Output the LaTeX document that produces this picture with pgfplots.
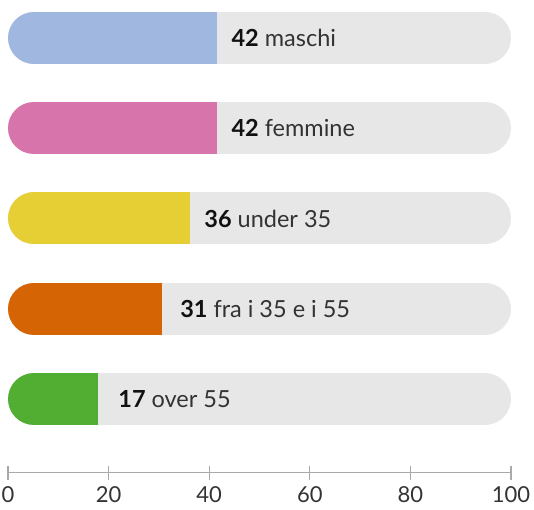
\documentclass[border=0pt]{standalone}
\usepackage{pgfplots}
\pgfplotsset{compat=1.18}
\usepackage{fontspec}
\setmainfont{Lato}
\definecolor{cblue}{HTML}{A0B8E0}
\definecolor{cpink}{HTML}{D874AC}
\definecolor{cyellow}{HTML}{E6CF34}
\definecolor{corange}{HTML}{D46404}
\definecolor{cgreen}{HTML}{52AE32}
\definecolor{cbg}{HTML}{E7E7E7}
\definecolor{axgray}{HTML}{AAAAAA}
\definecolor{tickgray}{HTML}{333333}
\definecolor{labtext}{HTML}{333333}
\definecolor{numtext}{HTML}{111111}
\newcommand{\num}[1]{\textcolor{numtext}{\textbf{#1}}}
\begin{document}
\begin{tikzpicture}
\begin{axis}[name=main, scale only axis, width=503pt, height=472.7pt,
  xmin=0, xmax=100, ymin=0.184, ymax=5.42,
  axis x line*=bottom, axis y line=none,
  xtick={0,20,40,60,80,100}, ytick=\empty,
  tick align=center, major tick length=14pt,
  x axis line style={color=axgray, line width=1.2pt},
  every tick/.style={color=axgray, line width=1.2pt},
  xticklabel style={font=\fontsize{22}{26}\selectfont, text=tickgray, yshift=-3pt},
  /pgf/number format/assume math mode=true,
  clip=false,
  lab/.style={nodes near coords, point meta=explicit symbolic,
    every node near coord/.append style={anchor=west, xshift=#1, text=labtext,
      outer sep=0pt, line width=0.4pt,
      font=\fontsize{23.5}{27}\selectfont}},
  rnd/.style={line width=52pt, line cap=round, mark=none, forget plot},
  sq/.style={line width=52pt, line cap=butt, mark=none},
]
% background bars (0 to 100, round ends; cap radius = 5.169 units)
\addplot[rnd, draw=cbg] coordinates {(5.169,5) (94.831,5)};
\addplot[rnd, draw=cbg] coordinates {(5.169,4) (94.831,4)};
\addplot[rnd, draw=cbg] coordinates {(5.169,3) (94.831,3)};
\addplot[rnd, draw=cbg] coordinates {(5.169,2) (94.831,2)};
\addplot[rnd, draw=cbg] coordinates {(5.169,1) (94.831,1)};
% coloured bars: round left cap + square right end
\addplot[rnd, draw=cblue] coordinates {(5.169,5) (6,5)};
\addplot[sq, draw=cblue, lab=11pt] coordinates {(5.169,5) [] (41.6,5) [\num{42} maschi]};
\addplot[rnd, draw=cpink] coordinates {(5.169,4) (6,4)};
\addplot[sq, draw=cpink, lab=11pt] coordinates {(5.169,4) [] (41.6,4) [\num{42} femmine]};
\addplot[rnd, draw=cyellow] coordinates {(5.169,3) (6,3)};
\addplot[sq, draw=cyellow, lab=11pt] coordinates {(5.169,3) [] (36.2,3) [\num{36} under 35]};
\addplot[rnd, draw=corange] coordinates {(5.169,2) (6,2)};
\addplot[sq, draw=corange, lab=15pt] coordinates {(5.169,2) [] (30.6,2) [\num{31} fra i 35 e i 55]};
\addplot[rnd, draw=cgreen] coordinates {(5.169,1) (6,1)};
\addplot[sq, draw=cgreen, lab=17pt] coordinates {(5.169,1) [] (17.9,1) [\num{17} over 55]};
\end{axis}
\pgfresetboundingbox
\path ([xshift=-8pt,yshift=-36.3pt]main.south west) rectangle ([xshift=23pt]main.north east);
\end{tikzpicture}
\end{document}
